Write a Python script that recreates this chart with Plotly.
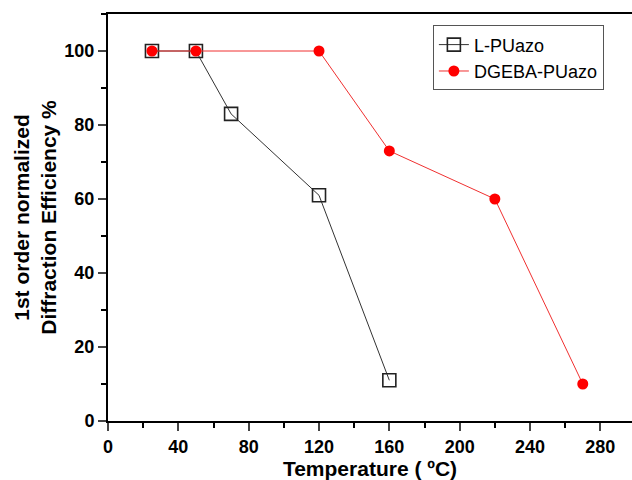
import plotly.graph_objects as go

l_temp = [25, 50, 70, 120, 160]
l_eff = [100, 100, 83, 61, 11]
d_temp = [25, 50, 120, 160, 220, 270]
d_eff = [100, 100, 100, 73, 60, 10]
x_ticks = [0, 40, 80, 120, 160, 200, 240, 280]
y_ticks = [0, 20, 40, 60, 80, 100]

fig = go.Figure()
fig.add_trace(go.Scatter(
    x=l_temp, y=l_eff, name="L-PUazo", mode="lines+markers",
    line=dict(color="#333333", width=1),
    marker=dict(symbol="square-open", size=13, color="#222222", line=dict(width=1.6)),
))
fig.add_trace(go.Scatter(
    x=d_temp, y=d_eff, name="DGEBA-PUazo", mode="lines+markers",
    line=dict(color="#f03030", width=1),
    marker=dict(symbol="circle", size=11, color="#ff0000"),
))

font_main = "Liberation Sans, Arial, sans-serif"
fig.update_layout(
    width=632, height=480,
    margin=dict(l=108, r=0, t=14, b=59),
    plot_bgcolor="white", paper_bgcolor="white",
    font=dict(family=font_main, color="black"),
    showlegend=True,
    legend=dict(
        x=0.62, y=0.972, xanchor="left", yanchor="top",
        bgcolor="white", bordercolor="#555555", borderwidth=1,
        font=dict(size=18, family=font_main),
        tracegroupgap=0, itemwidth=30,
    ),
    xaxis=dict(
        range=[0, 298], tickvals=x_ticks, ticktext=[f"<b>{v}</b>" for v in x_ticks],
        ticks="outside", ticklen=8, tickwidth=1.5,
        showline=True, linecolor="black", linewidth=2, mirror=True,
        showgrid=False, zeroline=False,
        tickfont=dict(size=18, family=font_main),
        minor=dict(dtick=20, ticks="outside", ticklen=5, tickwidth=1.5, tickcolor="black"),
        title=dict(text="<b>Temperature ( ºC)</b>", font=dict(size=21), standoff=8),
    ),
    yaxis=dict(
        range=[0, 110], tickvals=y_ticks, ticktext=[f"<b>{v}</b>" for v in y_ticks],
        ticks="outside", ticklen=8, tickwidth=1.5,
        showline=True, linecolor="black", linewidth=2, mirror=False,
        showgrid=False, zeroline=False,
        tickfont=dict(size=18, family=font_main),
        minor=dict(dtick=10, ticks="outside", ticklen=5, tickwidth=1.5, tickcolor="black"),
        title=dict(text="<b>1st order normalized<br>Diffraction Efficiency %</b>",
                   font=dict(size=21), standoff=2),
    ),
)

fig.write_html("out.html")
